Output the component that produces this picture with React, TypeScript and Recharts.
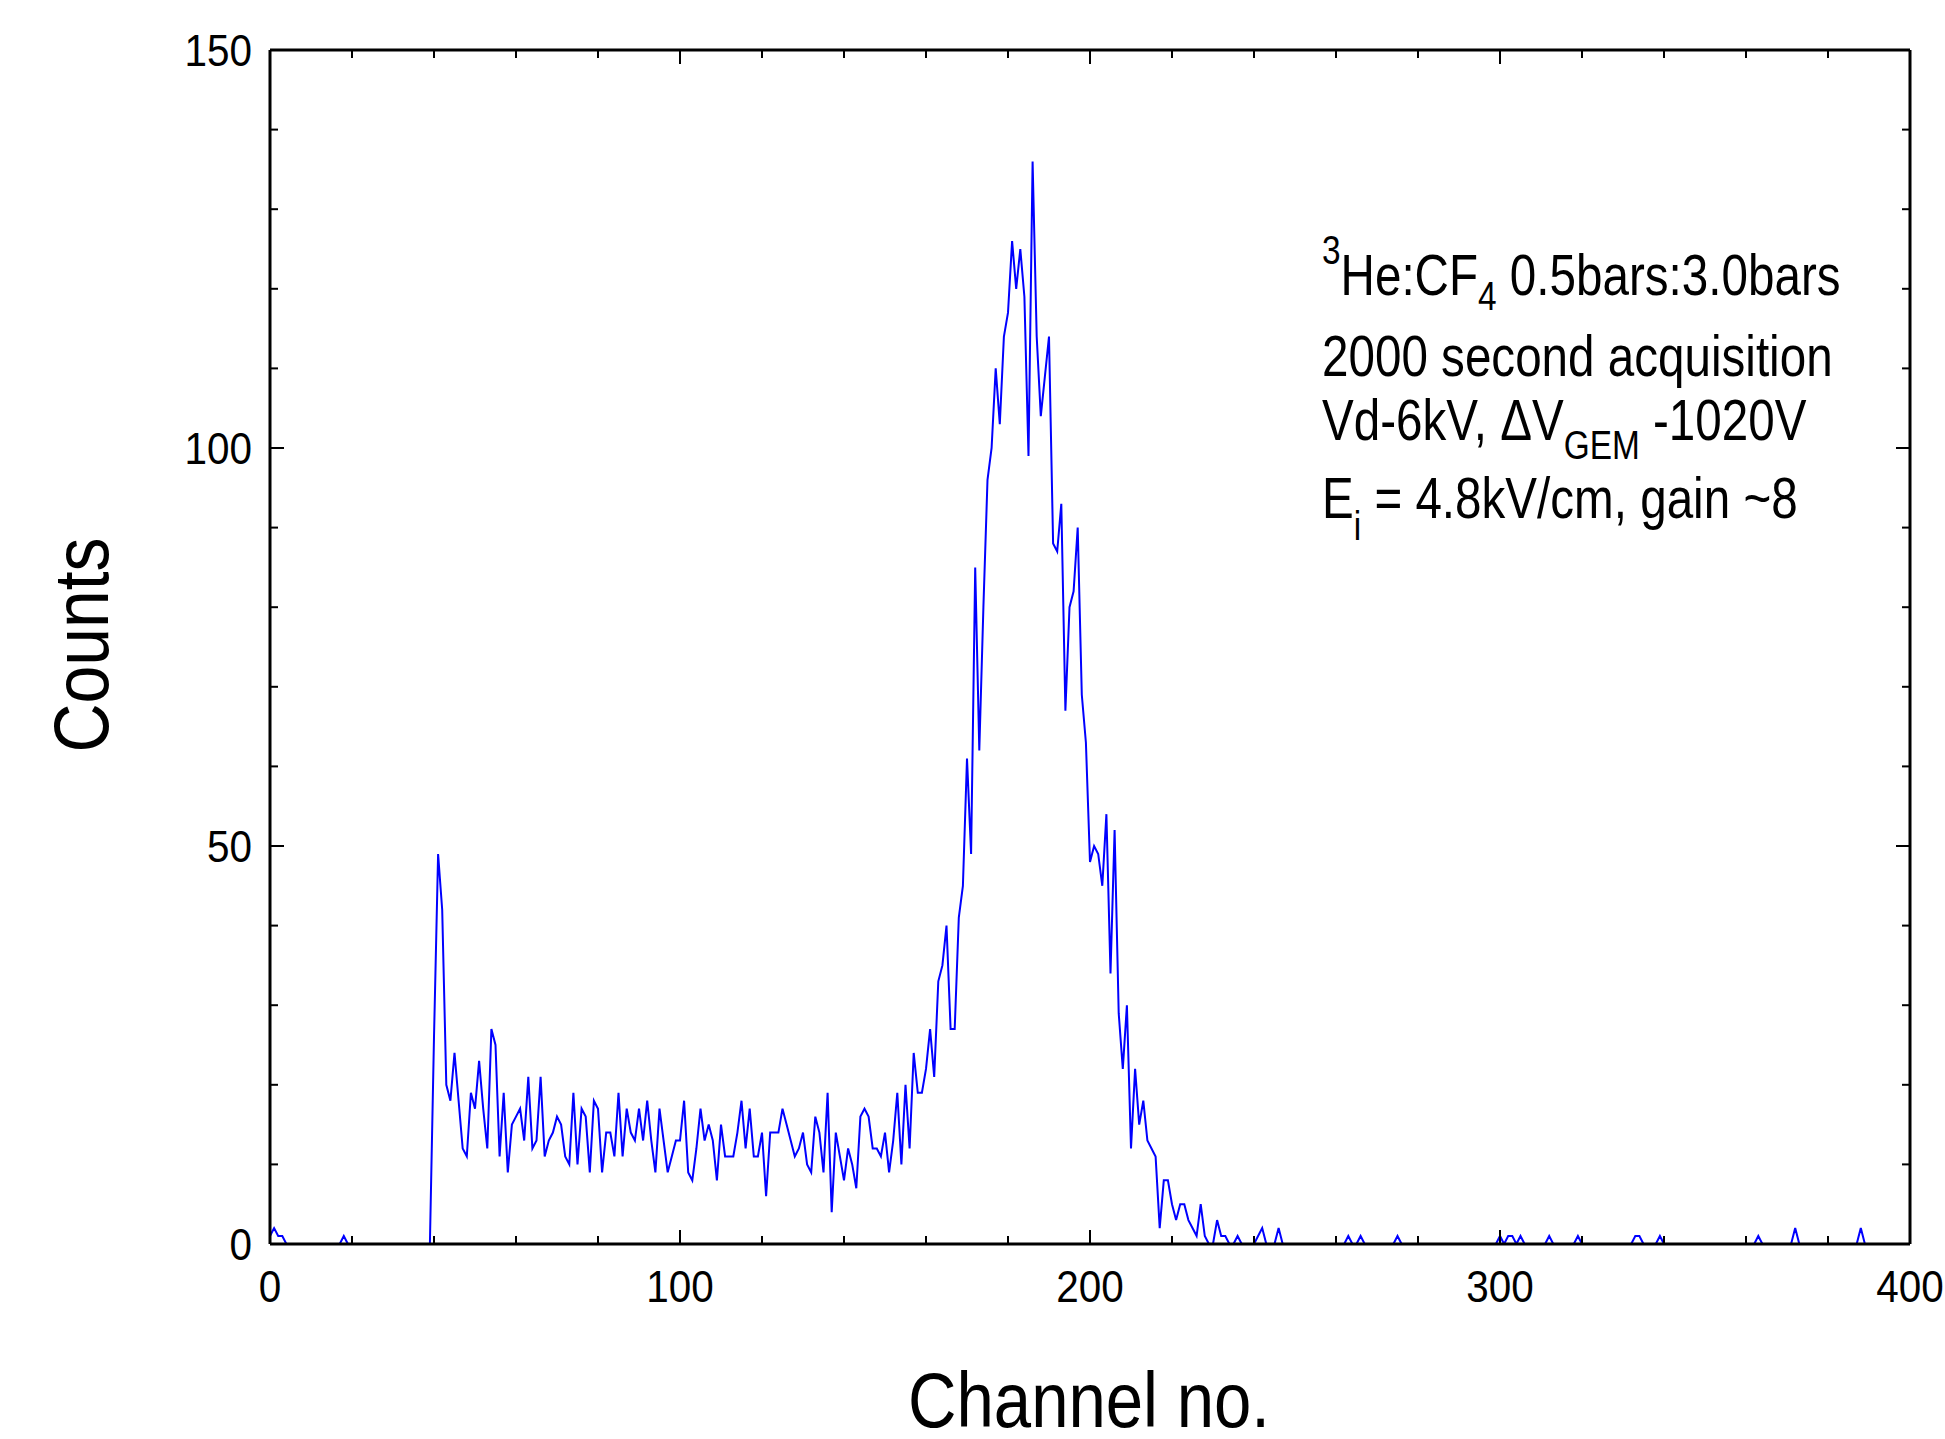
import { LineChart, Line, XAxis, YAxis } from "recharts";

// channels 0-38 (noise before the threshold)
const pedestalCounts = [
  1, 2, 1, 1, 0, 0, 0, 0, 0, 0,
  0, 0, 0, 0, 0, 0, 0, 0, 1, 0,
  0, 0, 0, 0, 0, 0, 0, 0, 0, 0,
  0, 0, 0, 0, 0, 0, 0, 0, 0,
];

// channels 39-160 (wall effect plateau)
const plateauCounts = [
  0, 26, 49, 42, 20, 18, 24, 18, 12, 11,
  19, 17, 23, 17, 12, 27, 25, 11, 19, 9,
  15, 16, 17, 13, 21, 12, 13, 21, 11, 13,
  14, 16, 15, 11, 10, 19, 10, 17, 16, 9,
  18, 17, 9, 14, 14, 11, 19, 11, 17, 14,
  13, 17, 13, 18, 13, 9, 17, 13, 9, 11,
  13, 13, 18, 9, 8, 12, 17, 13, 15, 13,
  8, 15, 11, 11, 11, 14, 18, 12, 17, 11,
  11, 14, 6, 14, 14, 14, 17, 15, 13, 11,
  12, 14, 10, 9, 16, 14, 9, 19, 4, 14,
  11, 8, 12, 10, 7, 16, 17, 16, 12, 12,
  11, 14, 9, 13, 19, 10, 20, 12, 24, 19,
  19, 22,
];

// channels 161-246 (full energy peak)
const peakCounts = [
  27, 21, 33, 35, 40, 27, 27, 41, 45, 61,
  49, 85, 62, 80, 96, 100, 110, 103, 114, 117,
  126, 120, 125, 119, 99, 136, 114, 104, 109, 114,
  88, 87, 93, 67, 80, 82, 90, 69, 63, 48,
  50, 49, 45, 54, 34, 52, 29, 22, 30, 12,
  22, 15, 18, 13, 12, 11, 2, 8, 8, 5,
  3, 5, 5, 3, 2, 1, 5, 1, 0, 0,
  3, 1, 1, 0, 0, 1, 0, 0, 0, 0,
  1, 2, 0, 0, 0, 2,
];

// channels 247-399: only these channels have hits, the rest read 0
const tailHits: [number, number][] = [
  [263, 1], [266, 1], [275, 1], [300, 1], [302, 1], [303, 1], [305, 1],
  [312, 1], [319, 1], [333, 1], [334, 1], [339, 1], [363, 1], [372, 2], [388, 2],
];

const xTicks = [0, 20, 40, 60, 80, 100, 120, 140, 160, 180, 200, 220, 240, 260, 280, 300, 320, 340, 360, 380, 400];
const xLabelTicks = [0, 100, 200, 300, 400];
const yTicks = [0, 10, 20, 30, 40, 50, 60, 70, 80, 90, 100, 110, 120, 130, 140, 150];
const yLabelTicks = [0, 50, 100, 150];

const LAST_CHANNEL = 399;
const spectrum = [...pedestalCounts, ...plateauCounts, ...peakCounts];
const tailMap = new Map(tailHits);
const data: { channel: number; counts: number }[] = [];
for (let ch = 0; ch <= LAST_CHANNEL; ch++) {
  data.push({ channel: ch, counts: ch < spectrum.length ? spectrum[ch] : tailMap.get(ch) ?? 0 });
}

const W = 1945;
const H = 1439;
const FONT = '"Liberation Sans", Arial, Helvetica, sans-serif';
const TICK_FS = 44;
const DIGIT_W = 22.5;
const MINOR = 8;
const MAJOR = 14;

function BottomTick(props: any) {
  const { x, y, payload } = props;
  const v = payload.value as number;
  const major = xLabelTicks.includes(v);
  return (
    <g>
      <line x1={x} x2={x} y1={y} y2={y - (major ? MAJOR : MINOR)} stroke="#000" strokeWidth={2} />
      {major && (
        <text
          x={x}
          y={y + 58}
          textAnchor="middle"
          fontSize={TICK_FS}
          fontFamily={FONT}
          fill="#000"
          textLength={String(v).length * DIGIT_W}
          lengthAdjust="spacingAndGlyphs"
        >
          {v}
        </text>
      )}
    </g>
  );
}

function TopTick(props: any) {
  const { x, y, payload } = props;
  const major = xLabelTicks.includes(payload.value);
  return <line x1={x} x2={x} y1={y} y2={y + (major ? MAJOR : MINOR)} stroke="#000" strokeWidth={2} />;
}

function LeftTick(props: any) {
  const { x, y, payload } = props;
  const v = payload.value as number;
  const major = yLabelTicks.includes(v);
  return (
    <g>
      <line x1={x} x2={x + (major ? MAJOR : MINOR)} y1={y} y2={y} stroke="#000" strokeWidth={2} />
      {major && (
        <text
          x={x - 18}
          y={y + 16}
          textAnchor="end"
          fontSize={TICK_FS}
          fontFamily={FONT}
          fill="#000"
          textLength={String(v).length * DIGIT_W}
          lengthAdjust="spacingAndGlyphs"
        >
          {v}
        </text>
      )}
    </g>
  );
}

function RightTick(props: any) {
  const { x, y, payload } = props;
  const major = yLabelTicks.includes(payload.value);
  return <line x1={x} x2={x - (major ? MAJOR : MINOR)} y1={y} y2={y} stroke="#000" strokeWidth={2} />;
}

const frame = { stroke: "#000", strokeWidth: 3 };

export default function App() {
  const annX = 1322;
  const annScale = 0.835;
  const small = 40;
  const textStyle = { whiteSpace: "pre" as const };
  return (
    <div style={{ position: "absolute", left: 0, top: 0, width: W, height: H, background: "#fff" }}>
      <LineChart width={W} height={H} data={data} margin={{ top: 40, right: 25, bottom: 135, left: 200 }}>
        <Line
          xAxisId="bottom"
          yAxisId="left"
          type="linear"
          dataKey="counts"
          stroke="#0000ff"
          strokeWidth={2}
          dot={false}
          isAnimationActive={false}
        />
        <XAxis
          xAxisId="bottom"
          dataKey="channel"
          type="number"
          domain={[0, 400]}
          ticks={xTicks}
          interval={0}
          height={60}
          tickSize={0}
          tickMargin={0}
          tickLine={false}
          axisLine={frame}
          tick={<BottomTick />}
          allowDataOverflow
        />
        <XAxis
          xAxisId="top"
          orientation="top"
          dataKey="channel"
          type="number"
          domain={[0, 400]}
          ticks={xTicks}
          interval={0}
          height={10}
          tickSize={0}
          tickMargin={0}
          tickLine={false}
          axisLine={frame}
          tick={<TopTick />}
          allowDataOverflow
        />
        <YAxis
          yAxisId="left"
          type="number"
          domain={[0, 150]}
          ticks={yTicks}
          interval={0}
          width={70}
          tickSize={0}
          tickMargin={0}
          tickLine={false}
          axisLine={frame}
          tick={<LeftTick />}
          allowDataOverflow
        />
        <YAxis
          yAxisId="right"
          orientation="right"
          type="number"
          domain={[0, 150]}
          ticks={yTicks}
          interval={0}
          width={10}
          tickSize={0}
          tickMargin={0}
          tickLine={false}
          axisLine={frame}
          tick={<RightTick />}
          allowDataOverflow
        />
      </LineChart>

      <svg
        width={W}
        height={H}
        style={{ position: "absolute", left: 0, top: 0, pointerEvents: "none" }}
        fontFamily={FONT}
        fill="#000"
      >
        <text
          x={1089}
          y={1427}
          textAnchor="middle"
          fontSize={78}
          textLength={362}
          lengthAdjust="spacingAndGlyphs"
        >
          Channel no.
        </text>
        <text
          transform="translate(108 645) rotate(-90)"
          textAnchor="middle"
          fontSize={78}
          textLength={215}
          lengthAdjust="spacingAndGlyphs"
        >
          Counts
        </text>

        <g transform={`translate(${annX} 0) scale(${annScale} 1)`} style={textStyle}>
          <text x={0} y={295} fontSize={57}>
            <tspan fontSize={small} dy={-31}>3</tspan>
            <tspan fontSize={57} dy={31}>He:CF</tspan>
            <tspan fontSize={small} dy={15}>4</tspan>
            <tspan fontSize={57} dy={-15}>{" 0.5bars:3.0bars"}</tspan>
          </text>
          <text x={0} y={376} fontSize={57}>
            2000 second acquisition
          </text>
          <text x={0} y={440} fontSize={57}>
            <tspan>{"Vd-6kV, \u0394V"}</tspan>
            <tspan fontSize={small} dy={19}>GEM</tspan>
            <tspan fontSize={57} dy={-19}>{" -1020V"}</tspan>
          </text>
          <text x={0} y={518} fontSize={57}>
            <tspan>E</tspan>
            <tspan fontSize={small} dy={22}>i</tspan>
            <tspan fontSize={57} dy={-22}>{" = 4.8kV/cm, gain ~8"}</tspan>
          </text>
        </g>
      </svg>
    </div>
  );
}
